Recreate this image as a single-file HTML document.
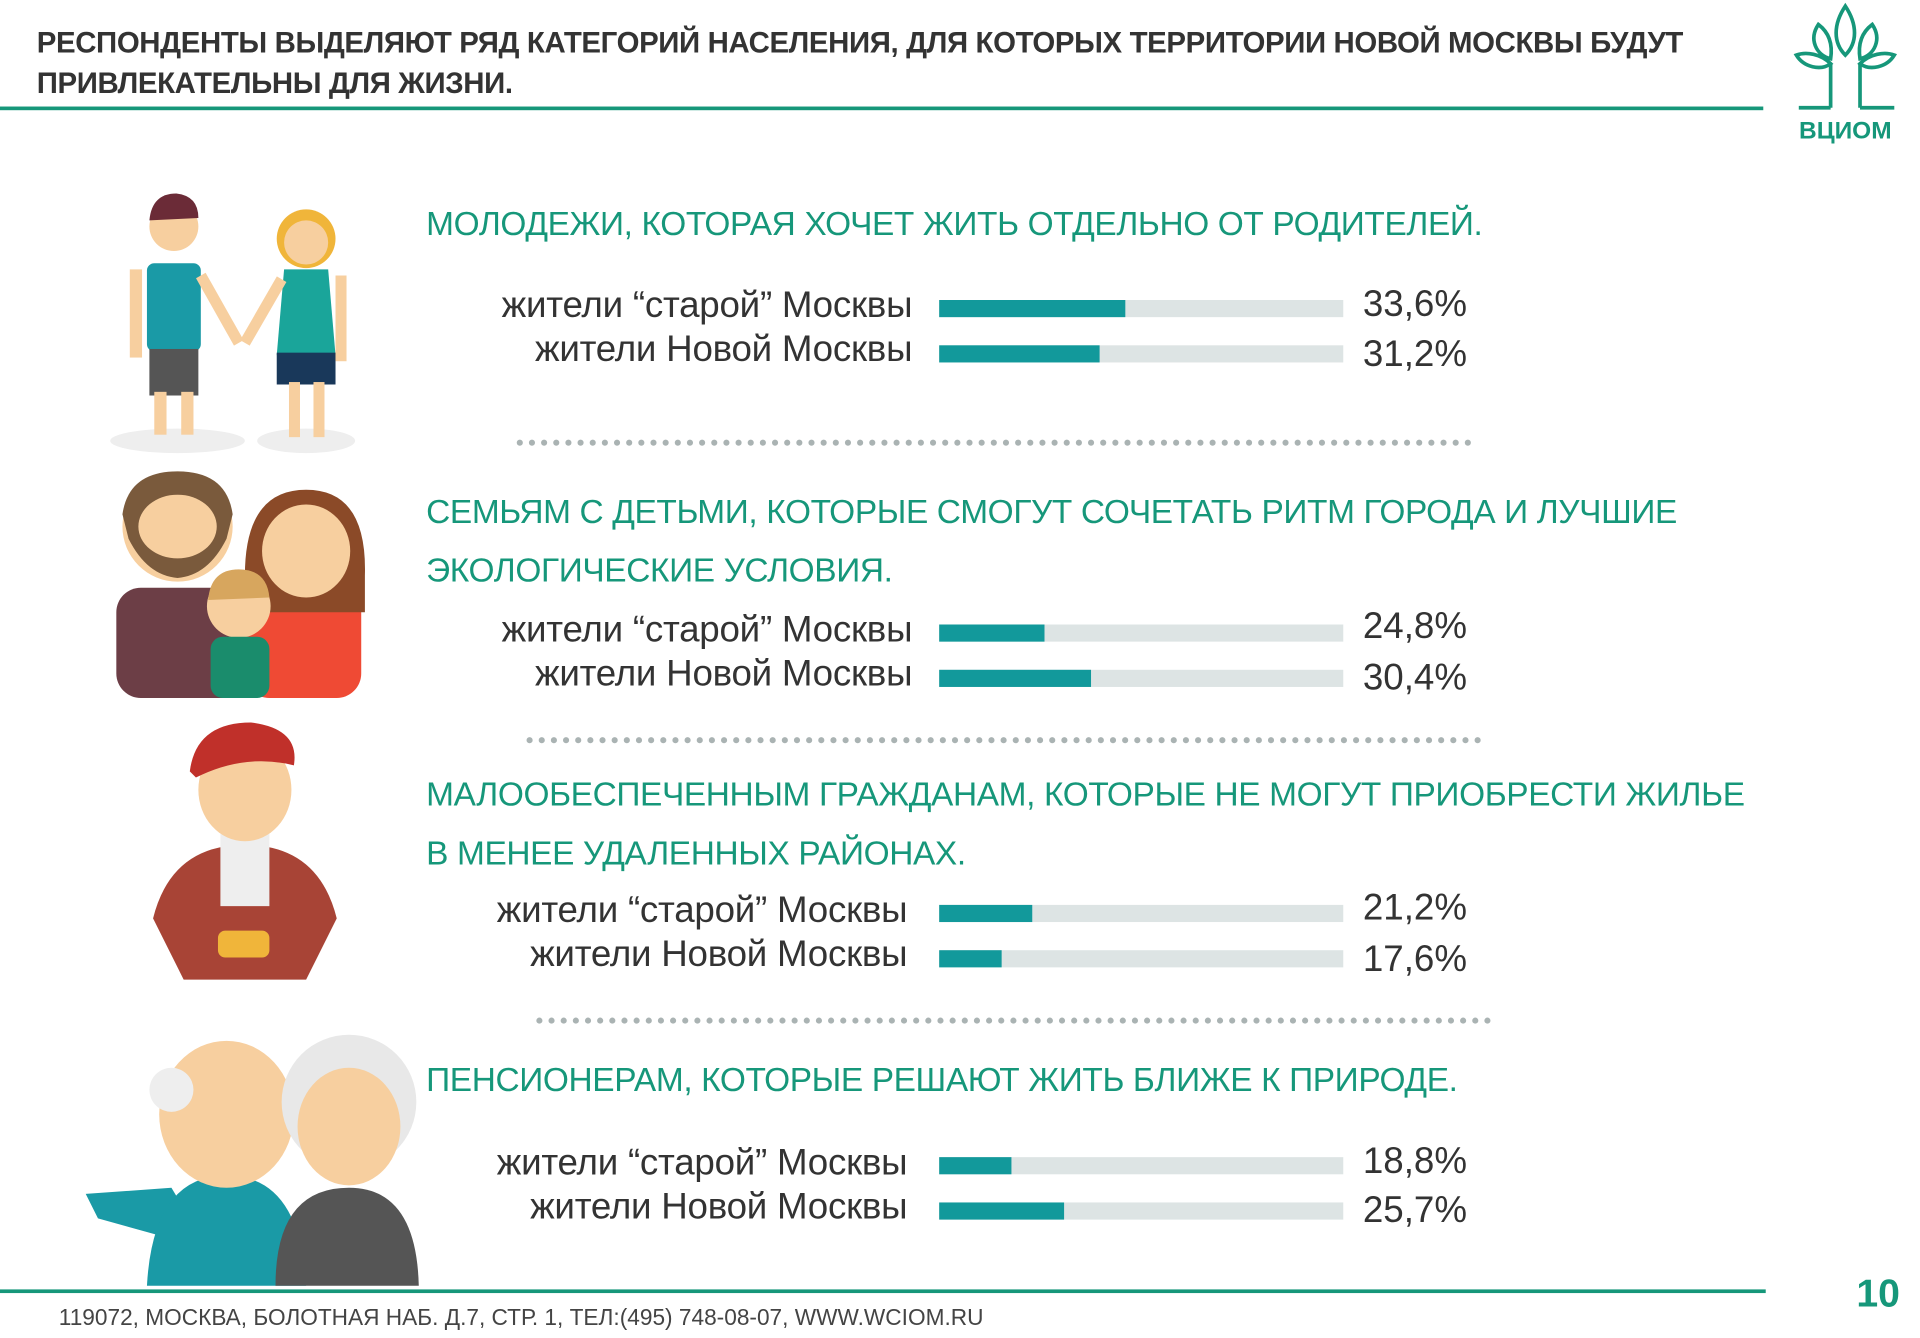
<!DOCTYPE html>
<html><head><meta charset="utf-8">
<style>
html,body{margin:0;padding:0;background:#fff;}
body{width:1920px;height:1338px;overflow:hidden;position:relative;}
#s{position:absolute;left:0;top:0;width:1568px;height:1093px;transform:scale(1.2245);transform-origin:0 0;font-family:"Liberation Sans","DejaVu Sans",sans-serif;}
.a{position:absolute;white-space:nowrap;}
.t{font-weight:bold;font-size:24px;color:#333;left:30px;letter-spacing:-0.3px;}
.h{color:#16977a;font-size:27.3px;left:348px;letter-spacing:-0.3px;}
.l{color:#333;font-size:30px;right:823px;text-align:right;letter-spacing:-0.2px;}
.p{color:#333;font-size:30px;left:1113px;}
.bar{position:absolute;left:767px;width:330px;height:14px;background:#dde4e4;}
.bar i{position:absolute;left:0;top:0;height:14px;background:#12999b;}
.dots{position:absolute;height:0;border-top:5px dotted #aab3b3;}
</style></head><body><div id="s">
<div class="a t" style="top:22px">РЕСПОНДЕНТЫ ВЫДЕЛЯЮТ РЯД КАТЕГОРИЙ НАСЕЛЕНИЯ, ДЛЯ КОТОРЫХ ТЕРРИТОРИИ НОВОЙ МОСКВЫ БУДУТ</div>
<div class="a t" style="top:55px">ПРИВЛЕКАТЕЛЬНЫ ДЛЯ ЖИЗНИ.</div>
<div class="a" style="left:0;top:87px;width:1440px;height:3px;background:#16977a"></div>
<svg class="a" style="left:1455px;top:0" width="105" height="120" viewBox="0 0 105 120">
<g fill="none" stroke="#16977a" stroke-width="3">
<path d="M52 5 C42 20 42 35 52 45 C62 35 62 20 52 5Z"/>
<path d="M30 20 C22 32 28 45 40 48 C42 35 38 26 30 20Z"/>
<path d="M74 20 C82 32 76 45 64 48 C62 35 66 26 74 20Z"/>
<path d="M12 45 C18 55 32 58 40 52 C32 44 20 42 12 45Z"/>
<path d="M92 45 C86 55 72 58 64 52 C72 44 84 42 92 45Z"/>
<path d="M40 52 L40 88 M64 52 L64 88 M14 88 L40 88 M64 88 L92 88"/>
</g>
<text x="52" y="113" text-anchor="middle" font-size="20" font-weight="bold" fill="#16977a" font-family="Liberation Sans">ВЦИОМ</text>
</svg>

<svg class="a" style="left:60px;top:120px" width="300" height="950" viewBox="0 0 300 950">
<ellipse cx="85" cy="240" rx="55" ry="10" fill="#eee"/><ellipse cx="190" cy="240" rx="40" ry="10" fill="#eee"/>
<circle cx="82" cy="65" r="20" fill="#f7cf9f"/><path d="M62 60 Q64 38 84 38 Q102 40 102 58 L62 60Z" fill="#6b2b37"/>
<rect x="60" y="95" width="44" height="72" rx="6" fill="#1a9aa6"/><rect x="62" y="165" width="40" height="38" fill="#555"/>
<rect x="66" y="200" width="10" height="35" fill="#f7cf9f"/><rect x="88" y="200" width="10" height="35" fill="#f7cf9f"/>
<rect x="46" y="100" width="10" height="72" fill="#f7cf9f"/><path d="M104 105 L135 160" stroke="#f7cf9f" stroke-width="9"/>
<circle cx="190" cy="75" r="24" fill="#f0b53a"/><circle cx="190" cy="78" r="18" fill="#f7cf9f"/>
<path d="M172 100 L208 100 L214 170 L166 170Z" fill="#1aa59a"/><rect x="166" y="168" width="48" height="26" fill="#19385a"/>
<rect x="176" y="192" width="9" height="45" fill="#f7cf9f"/><rect x="196" y="192" width="9" height="45" fill="#f7cf9f"/>
<path d="M170 108 L140 160" stroke="#f7cf9f" stroke-width="9"/><rect x="214" y="105" width="9" height="70" fill="#f7cf9f"/>
<rect x="35" y="360" width="110" height="90" rx="20" fill="#6c3e46"/>
<circle cx="85" cy="310" r="45" fill="#f7cf9f"/><path d="M40 300 Q45 265 85 265 Q125 265 130 300 L125 320 Q110 350 85 352 Q60 350 45 320Z" fill="#7a5a3c"/><ellipse cx="85" cy="310" rx="32" ry="26" fill="#f7cf9f"/>
<rect x="140" y="360" width="95" height="90" rx="20" fill="#ef4a34"/>
<path d="M140 350 Q140 280 190 280 Q240 280 238 350 L238 380 L140 380Z" fill="#8b4a28"/><ellipse cx="190" cy="330" rx="36" ry="38" fill="#f7cf9f"/>
<circle cx="135" cy="375" r="26" fill="#f7cf9f"/><path d="M110 370 Q112 345 135 345 Q158 345 160 368Z" fill="#d7a65e"/>
<rect x="112" y="400" width="48" height="50" rx="10" fill="#1a8c6c"/>
<path d="M65 630 Q80 570 140 570 Q200 570 215 630 L190 680 L90 680Z" fill="#a84436"/>
<rect x="120" y="560" width="40" height="60" fill="#eee"/>
<ellipse cx="140" cy="525" rx="38" ry="42" fill="#f7cf9f"/><path d="M95 510 Q100 470 145 470 Q185 475 180 505 Q140 495 100 515Z" fill="#c0302a"/>
<rect x="118" y="640" width="42" height="22" rx="6" fill="#f0b53a"/>
<path d="M10 855 L80 850 L110 900 L20 875Z" fill="#1a9aa6"/>
<path d="M60 930 Q65 840 125 840 Q185 840 190 930Z" fill="#1a9aa6"/>
<ellipse cx="125" cy="790" rx="55" ry="60" fill="#f7cf9f"/><circle cx="80" cy="770" r="18" fill="#eee"/>
<path d="M165 930 Q165 850 225 850 Q280 850 282 930Z" fill="#555"/>
<circle cx="225" cy="780" r="55" fill="#e8e8e8"/><ellipse cx="225" cy="800" rx="42" ry="48" fill="#f7cf9f"/>
</svg>

<div class="a h" style="top:167px">МОЛОДЕЖИ, КОТОРАЯ ХОЧЕТ ЖИТЬ ОТДЕЛЬНО ОТ РОДИТЕЛЕЙ.</div>
<div class="a l" style="top:233px">жители “старой” Москвы</div>
<div class="a l" style="top:269px">жители Новой Москвы</div>
<div class="bar" style="top:245px"><i style="width:152px"></i></div>
<div class="bar" style="top:282px"><i style="width:131px"></i></div>
<div class="a p" style="top:232px">33,6%</div><div class="a p" style="top:273px">31,2%</div>
<div class="dots" style="left:422px;top:359px;width:780px"></div>

<div class="a h" style="top:402px">СЕМЬЯМ С ДЕТЬМИ, КОТОРЫЕ СМОГУТ СОЧЕТАТЬ РИТМ ГОРОДА И ЛУЧШИЕ</div>
<div class="a h" style="top:450px">ЭКОЛОГИЧЕСКИЕ УСЛОВИЯ.</div>
<div class="a l" style="top:498px">жители “старой” Москвы</div>
<div class="a l" style="top:534px">жители Новой Москвы</div>
<div class="bar" style="top:510px"><i style="width:86px"></i></div>
<div class="bar" style="top:547px"><i style="width:124px"></i></div>
<div class="a p" style="top:495px">24,8%</div><div class="a p" style="top:537px">30,4%</div>
<div class="dots" style="left:430px;top:602px;width:780px"></div>

<div class="a h" style="top:633px">МАЛООБЕСПЕЧЕННЫМ ГРАЖДАНАМ, КОТОРЫЕ НЕ МОГУТ ПРИОБРЕСТИ ЖИЛЬЕ</div>
<div class="a h" style="top:681px">В МЕНЕЕ УДАЛЕННЫХ РАЙОНАХ.</div>
<div class="a l" style="top:727px;right:827px">жители “старой” Москвы</div>
<div class="a l" style="top:763px;right:827px">жители Новой Москвы</div>
<div class="bar" style="top:739px"><i style="width:76px"></i></div>
<div class="bar" style="top:776px"><i style="width:51px"></i></div>
<div class="a p" style="top:725px">21,2%</div><div class="a p" style="top:767px">17,6%</div>
<div class="dots" style="left:438px;top:831px;width:780px"></div>

<div class="a h" style="top:866px">ПЕНСИОНЕРАМ, КОТОРЫЕ РЕШАЮТ ЖИТЬ БЛИЖЕ К ПРИРОДЕ.</div>
<div class="a l" style="top:933px;right:827px">жители “старой” Москвы</div>
<div class="a l" style="top:969px;right:827px">жители Новой Москвы</div>
<div class="bar" style="top:945px"><i style="width:59px"></i></div>
<div class="bar" style="top:982px"><i style="width:102px"></i></div>
<div class="a p" style="top:932px">18,8%</div><div class="a p" style="top:972px">25,7%</div>

<div class="a" style="left:0;top:1053px;width:1442px;height:3px;background:#16977a"></div>
<div class="a" style="left:48px;top:1065px;font-size:18.5px;color:#444">119072, МОСКВА, БОЛОТНАЯ НАБ. Д.7, СТР. 1, ТЕЛ:(495) 748-08-07, WWW.WCIOM.RU</div>
<div class="a" style="left:1516px;top:1038px;font-size:32px;font-weight:bold;color:#16977a">10</div>
</div></body></html>
